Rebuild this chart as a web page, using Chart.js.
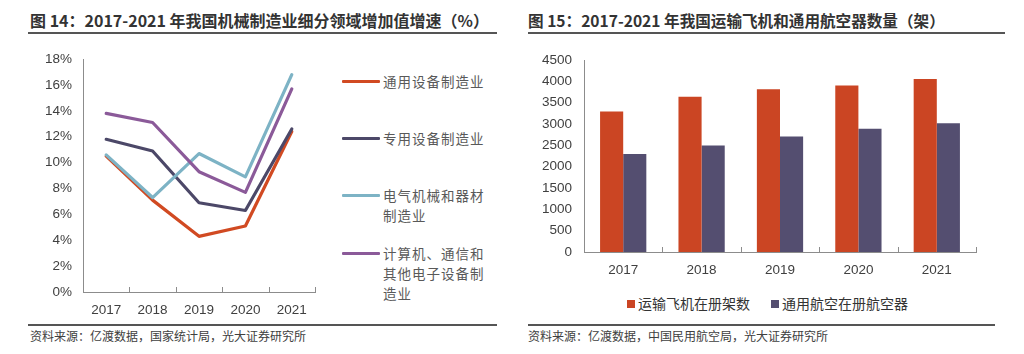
<!DOCTYPE html>
<html><head><meta charset="utf-8">
<script src="https://cdn.jsdelivr.net/npm/chart.js@4.4.1/dist/chart.umd.min.js"></script>
<style>
html,body{margin:0;padding:0;background:#fff;}
body{width:1024px;height:354px;position:relative;overflow:hidden;font-family:"Noto Sans CJK SC","Noto Sans",sans-serif;}
.title{position:absolute;top:9px;font-weight:bold;font-size:16px;color:#333;white-space:nowrap;line-height:22px;}
.rule{position:absolute;height:2px;background:#555;}
.src{position:absolute;font-size:12px;color:#404040;white-space:nowrap;line-height:16px;}
canvas{position:absolute;}
.lg{position:absolute;font-size:13.5px;color:#595959;line-height:20px;letter-spacing:1px;}
.lg .ln{position:absolute;left:0;top:9px;width:38px;height:3px;border-radius:1px;}
.lg .tx{position:absolute;left:41px;top:0;width:108px;}
.rl{position:absolute;top:294px;font-size:14px;color:#333;white-space:nowrap;line-height:18px;}
.rl .sq{display:inline-block;width:8px;height:8px;margin-right:3px;vertical-align:1px;}
</style></head>
<body>
<div class="title" style="left:30px;">图 14：2017-2021 年我国机械制造业细分领域增加值增速（%）</div>
<div class="rule" style="left:28px;top:32px;width:469px;"></div>
<div class="title" style="left:528px;font-size:15.6px;">图 15：2017-2021 年我国运输飞机和通用航空器数量（架）</div>
<div class="rule" style="left:528px;top:32px;width:477px;"></div>

<canvas id="c1" width="290" height="280" style="left:30px;top:40px;"></canvas>
<canvas id="c2" width="480" height="250" style="left:520px;top:40px;"></canvas>

<div id="leftLegend"></div>
<div id="rightLegend"></div>

<div class="rule" style="left:28px;top:324px;width:469px;height:1.5px;"></div>
<div class="src" style="left:30px;top:328px;">资料来源：亿渡数据，国家统计局，光大证券研究所</div>
<div class="rule" style="left:528px;top:324px;width:467px;height:1.5px;"></div>
<div class="src" style="left:528px;top:328px;">资料来源：亿渡数据，中国民用航空局，光大证券研究所</div>

<script>
// ---- data ----
const years = ['2017', '2018', '2019', '2020', '2021'];
const generalEquip = [10.5, 7.1, 4.3, 5.1, 12.4];
const specialEquip = [11.8, 10.9, 6.9, 6.3, 12.6];
const electricEquip = [10.6, 7.3, 10.7, 8.9, 16.8];
const computerEquip = [13.8, 13.1, 9.3, 7.7, 15.7];
const lineNames = ['通用设备制造业', '专用设备制造业', '电气机械和器材制造业', '计算机、通信和其他电子设备制造业'];
const lineColors = ['#D14A22', '#4C4868', '#7DB3C5', '#8B5A99'];
const pctTicks = [0, 2, 4, 6, 8, 10, 12, 14, 16, 18];

const transportAircraft = [3296, 3639, 3818, 3903, 4054];
const generalAviation = [2297, 2495, 2707, 2892, 3018];
const barNames = ['运输飞机在册架数', '通用航空在册航空器'];
const barColors = ['#CB4523', '#544E70'];
const countTicks = [0, 500, 1000, 1500, 2000, 2500, 3000, 3500, 4000, 4500];

const tickFont = {family: '"Liberation Sans", Arial, sans-serif', size: 13.5};
const tickColor = '#404040';
const axisColor = '#8c8c8c';

// inward category tick marks on the x axis
const catTicks = {
  id: 'catTicks',
  afterDraw(chart) {
    const s = chart.scales.x, ctx = chart.ctx, n = s.getLabels().length;
    const step = s.width / n;
    ctx.save();
    ctx.strokeStyle = axisColor; ctx.lineWidth = 1;
    for (let i = 1; i <= n; i++) {
      const x = Math.round(s.left + i * step) + 0.5;
      ctx.beginPath(); ctx.moveTo(x, s.top - 5); ctx.lineTo(x, s.top); ctx.stroke();
    }
    ctx.restore();
  }
};

const seriesL = [generalEquip, specialEquip, electricEquip, computerEquip];
new Chart(document.getElementById('c1'), {
  type: 'line',
  data: {
    labels: years,
    datasets: seriesL.map((d, i) => ({
      label: lineNames[i], data: d, borderColor: lineColors[i], backgroundColor: lineColors[i],
      borderWidth: 3.2, pointRadius: 0, tension: 0, order: 3 - i, borderJoinStyle: 'round', borderCapStyle: 'round'
    }))
  },
  options: {
    responsive: false, animation: false,
    layout: {padding: {top: 16, right: 5, left: 0, bottom: 0}},
    plugins: {legend: {display: false}, tooltip: {enabled: false}},
    scales: {
      x: {
        offset: true,
        grid: {display: false, drawTicks: false},
        border: {display: true, color: axisColor, width: 1},
        ticks: {font: tickFont, color: tickColor, padding: 10, maxRotation: 0},
        afterFit(s) { s.height = 28; }
      },
      y: {
        min: 0, max: 18,
        afterBuildTicks(s) { s.ticks = pctTicks.map(v => ({value: v})); },
        grid: {display: false, drawTicks: false},
        border: {display: true, color: axisColor, width: 1},
        ticks: {font: tickFont, color: tickColor, padding: 11, callback: v => v + '%'},
        afterFit(s) { s.width = 53; }
      }
    }
  },
  plugins: [catTicks]
});

new Chart(document.getElementById('c2'), {
  type: 'bar',
  data: {
    labels: years,
    datasets: [transportAircraft, generalAviation].map((d, i) => ({
      label: barNames[i], data: d, backgroundColor: barColors[i],
      categoryPercentage: 0.59, barPercentage: 1.0
    }))
  },
  options: {
    responsive: false, animation: false,
    layout: {padding: {top: 17, right: 24, left: 0, bottom: 0}},
    plugins: {legend: {display: false}, tooltip: {enabled: false}},
    scales: {
      x: {
        grid: {display: false, drawTicks: false},
        border: {display: true, color: axisColor, width: 1},
        ticks: {font: tickFont, color: tickColor, padding: 10, maxRotation: 0},
        afterFit(s) { s.height = 38; }
      },
      y: {
        min: 0, max: 4500,
        afterBuildTicks(s) { s.ticks = countTicks.map(v => ({value: v})); },
        grid: {display: false, drawTicks: false},
        border: {display: true, color: axisColor, width: 1},
        ticks: {font: tickFont, color: tickColor, padding: 12, callback: v => String(v)},
        afterFit(s) { s.width = 64; }
      }
    }
  },
  plugins: [catTicks]
});

// HTML legends
const legTops = [71, 128, 185, 243];
document.getElementById('leftLegend').innerHTML = lineNames.map((n, i) =>
  `<div class="lg" style="left:342px;top:${legTops[i]}px;width:160px;height:70px;">` +
  `<div class="ln" style="background:${lineColors[i]}"></div><div class="tx">${n}</div></div>`).join('');
const rlLeft = [627, 771];
document.getElementById('rightLegend').innerHTML = barNames.map((n, i) =>
  `<div class="rl" style="left:${rlLeft[i]}px;"><span class="sq" style="background:${barColors[i]}"></span>${n}</div>`).join('');
</script>
</body></html>
